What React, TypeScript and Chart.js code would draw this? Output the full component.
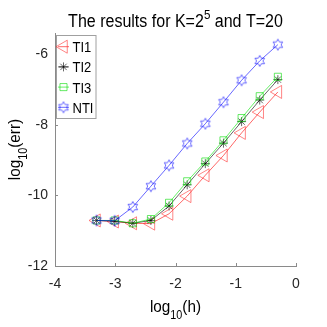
import React, { useEffect, useRef } from 'react';
import { Chart, registerables } from 'chart.js';
import { drawPoint } from 'chart.js/helpers';

Chart.register(...registerables);

// ---- data ----
const logH = [-3.311, -3.01, -2.709, -2.408, -2.107, -1.806, -1.505, -1.204, -0.903, -0.602, -0.301];
const ti1 = [-10.71, -10.74, -10.79, -10.8, -10.52, -10.02, -9.43, -8.87, -8.23, -7.64, -7.07];
const ti2 = [-10.71, -10.73, -10.79, -10.71, -10.3, -9.7, -9.1, -8.52, -7.91, -7.3, -6.72];
const ti3 = [-10.71, -10.71, -10.79, -10.67, -10.21, -9.6, -9.04, -8.44, -7.81, -7.19, -6.64];
const nti = [-10.71, -10.72, -10.33, -9.74, -9.15, -8.53, -7.97, -7.36, -6.74, -6.19, -5.73];
const seriesNames = ['TI1', 'TI2', 'TI3', 'NTI'];
const xTicks = [-4, -3, -2, -1, 0];
const yTicks = [-12, -10, -8, -6];

const FAMILY = '"Liberation Sans", Arial, Helvetica, sans-serif';
const AXIS_COLOR = '#8a8a8a';
const TEXT_COLOR = '#262626';

function makeHexagram(color: string, r: number) {
  const size = Math.ceil(r * 2 + 3);
  const c = document.createElement('canvas');
  c.width = size;
  c.height = size;
  const ctx = c.getContext('2d')!;
  const cx = size / 2;
  const cy = size / 2;
  const ri = r / Math.sqrt(3);
  ctx.beginPath();
  for (let i = 0; i < 12; i++) {
    const ang = -Math.PI / 2 + (i * Math.PI) / 6;
    const rr = i % 2 === 0 ? r : ri;
    const px = cx + rr * Math.cos(ang);
    const py = cy + rr * Math.sin(ang);
    if (i === 0) ctx.moveTo(px, py);
    else ctx.lineTo(px, py);
  }
  ctx.closePath();
  ctx.strokeStyle = color;
  ctx.lineWidth = 0.6;
  ctx.stroke();
  return c;
}

type Part = { t: string; s: number; dy: number };

function drawParts(
  ctx: CanvasRenderingContext2D,
  parts: Part[],
  cx: number,
  baseline: number,
  sx: number,
  rotate: boolean,
  align: 'center' | 'left' = 'center'
) {
  ctx.save();
  ctx.translate(cx, baseline);
  if (rotate) ctx.rotate(-Math.PI / 2);
  ctx.scale(sx, 1);
  let total = 0;
  const widths = parts.map((p) => {
    ctx.font = `${p.s}px ${FAMILY}`;
    const w = ctx.measureText(p.t).width;
    total += w;
    return w;
  });
  let x = align === 'center' ? -total / 2 : 0;
  ctx.fillStyle = '#000';
  ctx.textBaseline = 'alphabetic';
  ctx.textAlign = 'left';
  parts.forEach((p, i) => {
    ctx.font = `${p.s}px ${FAMILY}`;
    ctx.fillText(p.t, x, p.dy);
    x += widths[i];
  });
  ctx.restore();
}

export default function App() {
  const ref = useRef<HTMLCanvasElement | null>(null);

  useEffect(() => {
    if (!ref.current) return;
    const hex = makeHexagram('rgb(0,0,255)', 5.5);

    const mk = (ys: number[]) => ys.map((y, i) => ({ x: logH[i], y }));

    const datasets: any[] = [
      {
        label: seriesNames[0],
        data: mk(ti1),
        borderColor: 'rgb(255,0,0)',
        borderWidth: 0.6,
        pointStyle: 'triangle',
        pointRotation: -90,
        pointRadius: 7.5,
        pointBorderColor: 'rgb(255,50,50)',
        pointBackgroundColor: 'rgba(0,0,0,0)',
        pointBorderWidth: 0.6,
        order: 3,
      },
      {
        label: seriesNames[1],
        data: mk(ti2),
        borderColor: 'rgb(0,0,0)',
        borderWidth: 0.6,
        pointStyle: 'star',
        pointRadius: 4.5,
        pointBorderColor: 'rgb(0,0,0)',
        pointBackgroundColor: 'rgba(0,0,0,0)',
        pointBorderWidth: 0.6,
        order: 2,
      },
      {
        label: seriesNames[2],
        data: mk(ti3),
        borderColor: 'rgb(0,230,0)',
        borderWidth: 0.6,
        pointStyle: 'rect',
        pointRadius: 5,
        pointBorderColor: 'rgb(0,220,0)',
        pointBackgroundColor: 'rgba(0,0,0,0)',
        pointBorderWidth: 0.6,
        order: 1,
      },
      {
        label: seriesNames[3],
        data: mk(nti),
        borderColor: 'rgb(0,0,255)',
        borderWidth: 0.6,
        pointStyle: hex,
        pointRadius: 5.5,
        pointBorderColor: 'rgb(0,0,255)',
        pointBackgroundColor: 'rgba(0,0,0,0)',
        pointBorderWidth: 0.6,
        order: 0,
      },
    ];

    const decor = {
      id: 'decor',
      afterDraw(chart: any) {
        const ctx: CanvasRenderingContext2D = chart.ctx;
        const xs = chart.scales.x;
        const ys = chart.scales.y;
        const area = chart.chartArea;
        // inward tick marks
        ctx.save();
        ctx.strokeStyle = AXIS_COLOR;
        ctx.lineWidth = 1;
        ctx.beginPath();
        xTicks.forEach((v) => {
          const px = Math.round(xs.getPixelForValue(v)) + 0.5;
          ctx.moveTo(px, area.bottom);
          ctx.lineTo(px, area.bottom - 3);
        });
        yTicks.forEach((v) => {
          const py = Math.round(ys.getPixelForValue(v)) + 0.5;
          ctx.moveTo(area.left, py);
          ctx.lineTo(area.left + 3, py);
        });
        ctx.stroke();
        ctx.restore();

        const cx = (area.left + area.right) / 2;
        // title
        drawParts(
          ctx,
          [
            { t: 'The results for K=2', s: 18, dy: 0 },
            { t: '5', s: 13, dy: -8 },
            { t: ' and T=20', s: 18, dy: 0 },
          ],
          cx,
          26.5,
          0.89,
          false
        );
        // x label
        drawParts(
          ctx,
          [
            { t: 'log', s: 17, dy: 0 },
            { t: '10', s: 12, dy: 7 },
            { t: '(h)', s: 17, dy: 0 },
          ],
          cx,
          312,
          0.9,
          false
        );
        // y label
        drawParts(
          ctx,
          [
            { t: 'log', s: 17, dy: 0 },
            { t: '10', s: 12, dy: 7 },
            { t: '(err)', s: 17, dy: 0 },
          ],
          20,
          (area.top + area.bottom) / 2,
          0.9,
          true
        );

        // legend box
        ctx.save();
        const bx = 56.5, by = 35.5, bw = 39.5, bh = 83;
        ctx.fillStyle = '#ffffff';
        ctx.fillRect(bx, by, bw, bh);
        ctx.strokeStyle = '#a0a0a0';
        ctx.lineWidth = 1;
        ctx.strokeRect(bx, by, bw, bh);
        chart.data.datasets.forEach((ds: any, i: number) => {
          const yy = 46.7 + i * 20.2;
          ctx.strokeStyle = ds.borderColor;
          ctx.lineWidth = ds.borderWidth;
          ctx.beginPath();
          ctx.moveTo(58, yy);
          ctx.lineTo(69, yy);
          ctx.stroke();
          ctx.strokeStyle = ds.pointBorderColor;
          ctx.fillStyle = 'rgba(0,0,0,0)';
          ctx.lineWidth = ds.pointBorderWidth;
          drawPoint(
            ctx,
            {
              pointStyle: ds.pointStyle,
              rotation: ds.pointRotation || 0,
              radius: ds.pointRadius,
              borderWidth: ds.pointBorderWidth,
            } as any,
            63.5,
            yy
          );
          drawParts(ctx, [{ t: ds.label, s: 15.5, dy: 0 }], 72.5, yy + 5.5, 0.84, false, 'left');
        });
        ctx.restore();
      },
    };

    const chart = new Chart(ref.current, {
      type: 'line',
      data: { datasets },
      options: {
        responsive: false,
        animation: false,
        layout: { padding: { top: 33, right: 31, left: 0, bottom: 0 } },
        elements: { line: { tension: 0 } },
        plugins: {
          legend: { display: false },
          tooltip: { enabled: false },
          title: { display: false },
        },
        scales: {
          x: {
            type: 'linear',
            min: -4,
            max: 0,
            afterBuildTicks: (s: any) => {
              s.ticks = xTicks.map((v) => ({ value: v }));
            },
            afterFit: (s: any) => {
              s.height = 61;
            },
            grid: { display: false, drawTicks: false },
            border: { display: true, color: AXIS_COLOR, width: 1 },
            ticks: {
              font: { family: FAMILY, size: 14 },
              color: TEXT_COLOR,
              padding: 10,
              maxRotation: 0,
              autoSkip: false,
              callback: (v: any) => String(v),
            },
          },
          y: {
            type: 'linear',
            min: -12,
            max: -5.4,
            afterBuildTicks: (s: any) => {
              s.ticks = yTicks.map((v) => ({ value: v }));
            },
            afterFit: (s: any) => {
              s.width = 55;
            },
            grid: { display: false, drawTicks: false },
            border: { display: true, color: AXIS_COLOR, width: 1 },
            ticks: {
              font: { family: FAMILY, size: 14 },
              color: TEXT_COLOR,
              padding: 7,
              autoSkip: false,
              callback: (v: any) => String(v),
            },
          },
        },
      },
      plugins: [decor],
    } as any);

    return () => chart.destroy();
  }, []);

  return (
    <div style={{ position: 'fixed', left: 0, top: 0, width: 327, height: 327, background: '#fff' }}>
      <canvas ref={ref} width={327} height={327} style={{ display: 'block' }} />
    </div>
  );
}
